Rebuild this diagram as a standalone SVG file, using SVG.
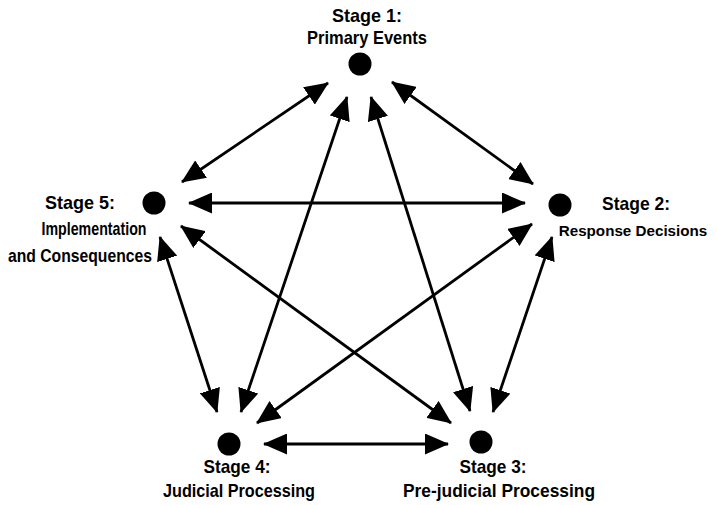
<svg xmlns="http://www.w3.org/2000/svg" width="717" height="505" viewBox="0 0 717 505">
<style>
.lbl{font-family:"Liberation Sans",Arial,sans-serif;font-weight:bold;font-size:18.5px;fill:#000;text-anchor:middle}
.sm{font-size:15.2px}
.dot{fill:#000}
.conn line{stroke:#000;stroke-width:2.8;fill:none;marker-start:url(#ah);marker-end:url(#ah)}
</style>
<defs>
<marker id="ah" viewBox="0 0 24 21" refX="23" refY="10.5" markerWidth="24" markerHeight="21" markerUnits="userSpaceOnUse" orient="auto-start-reverse">
<path d="M0,0 L24,10.5 L0,21 Z" fill="#000"/>
</marker>
</defs>
<rect width="717" height="505" fill="#fff"/>
<g id="connectors" class="conn">
<line x1="328" y1="83" x2="182" y2="182"/>
<line x1="392" y1="82" x2="533" y2="184"/>
<line x1="189" y1="203" x2="525" y2="203"/>
<line x1="347" y1="97" x2="241" y2="412"/>
<line x1="371" y1="97" x2="470" y2="411"/>
<line x1="160" y1="237" x2="217" y2="412"/>
<line x1="181" y1="226" x2="451" y2="423"/>
<line x1="532" y1="224" x2="257" y2="423"/>
<line x1="552" y1="237" x2="493" y2="412"/>
<line x1="264" y1="444" x2="448" y2="444"/>
</g>
<g id="stage1">
<circle class="dot" cx="360" cy="64" r="11.5"/>
<text class="lbl" x="367" y="22" textLength="70" lengthAdjust="spacingAndGlyphs">Stage 1:</text>
<text class="lbl" x="367" y="44" textLength="120" lengthAdjust="spacingAndGlyphs">Primary Events</text>
</g>
<g id="stage2">
<circle class="dot" cx="560" cy="205" r="11.5"/>
<text class="lbl" x="636" y="210" textLength="68" lengthAdjust="spacingAndGlyphs">Stage 2:</text>
<text class="lbl sm" x="633" y="236">Response Decisions</text>
</g>
<g id="stage3">
<circle class="dot" cx="481" cy="442" r="11.5"/>
<text class="lbl" x="493" y="473" textLength="67" lengthAdjust="spacingAndGlyphs">Stage 3:</text>
<text class="lbl" x="499" y="497" textLength="192" lengthAdjust="spacingAndGlyphs">Pre-judicial Processing</text>
</g>
<g id="stage4">
<circle class="dot" cx="229" cy="444" r="11.5"/>
<text class="lbl" x="237" y="473" textLength="67" lengthAdjust="spacingAndGlyphs">Stage 4:</text>
<text class="lbl" x="239" y="497" textLength="152" lengthAdjust="spacingAndGlyphs">Judicial Processing</text>
</g>
<g id="stage5">
<circle class="dot" cx="154" cy="203" r="11.5"/>
<text class="lbl" x="80" y="209" textLength="70" lengthAdjust="spacingAndGlyphs">Stage 5:</text>
<text class="lbl" x="94" y="235" textLength="105" lengthAdjust="spacingAndGlyphs">Implementation</text>
<text class="lbl" x="80" y="262" textLength="144" lengthAdjust="spacingAndGlyphs">and Consequences</text>
</g>
</svg>
